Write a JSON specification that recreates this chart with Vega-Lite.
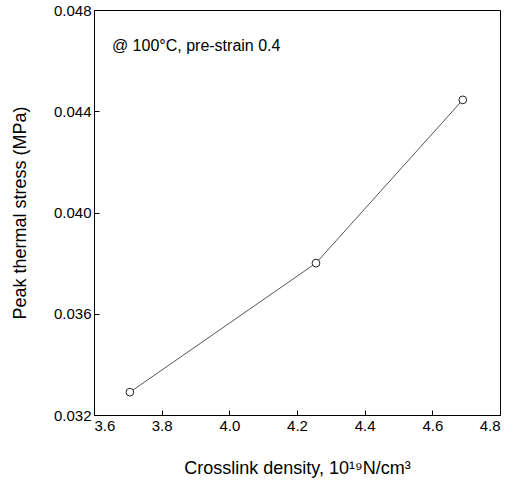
{
  "$schema": "https://vega.github.io/schema/vega-lite/v6.json",
  "width": 406,
  "height": 405,
  "autosize": {"type": "none"},
  "padding": {"left": 94, "top": 10, "right": 17, "bottom": 69},
  "background": "white",
  "config": {
    "view": {"stroke": "black", "strokeWidth": 1},
    "font": "Liberation Sans",
    "axis": {
      "grid": false,
      "domainColor": "black",
      "tickColor": "black",
      "tickSize": -5,
      "labelColor": "black",
      "labelFont": "Liberation Sans",
      "labelFontSize": 15,
      "labelPadding": 8,
      "titleColor": "black",
      "titleFont": "Liberation Sans",
      "titleFontSize": 18,
      "titleFontWeight": "normal"
    }
  },
  "datasets": {
    "pts": [
      {"density": 3.706, "stress": 0.0329},
      {"density": 4.256, "stress": 0.0380},
      {"density": 4.69, "stress": 0.04445}
    ],
    "note": [
      {"density": 3.653, "stress": 0.0464, "label": "@ 100°C, pre-strain 0.4"}
    ]
  },
  "layer": [
    {
      "data": {"name": "pts"},
      "mark": {"type": "line", "color": "#555555", "strokeWidth": 1},
      "encoding": {
        "x": {
          "field": "density", "type": "quantitative",
          "scale": {"domain": [3.6, 4.8], "nice": false, "zero": false},
          "axis": {"values": [3.6, 3.8, 4.0, 4.2, 4.4, 4.6, 4.8], "format": ".1f", "title": "Crosslink density, 10¹⁹N/cm³", "titlePadding": 26}
        },
        "y": {
          "field": "stress", "type": "quantitative",
          "scale": {"domain": [0.032, 0.048], "nice": false, "zero": false},
          "axis": {"values": [0.032, 0.036, 0.04, 0.044, 0.048], "format": ".3f", "title": "Peak thermal stress (MPa)", "titlePadding": 24}
        }
      }
    },
    {
      "data": {"name": "pts"},
      "mark": {"type": "point", "shape": "circle", "filled": false, "fill": "white", "stroke": "#222222", "strokeWidth": 1, "size": 60, "opacity": 1},
      "encoding": {
        "x": {"field": "density", "type": "quantitative"},
        "y": {"field": "stress", "type": "quantitative"}
      }
    },
    {
      "data": {"name": "note"},
      "mark": {"type": "text", "align": "left", "baseline": "alphabetic", "fontSize": 16, "font": "Liberation Sans", "color": "black"},
      "encoding": {
        "x": {"field": "density", "type": "quantitative"},
        "y": {"field": "stress", "type": "quantitative"},
        "text": {"field": "label"}
      }
    }
  ]
}
